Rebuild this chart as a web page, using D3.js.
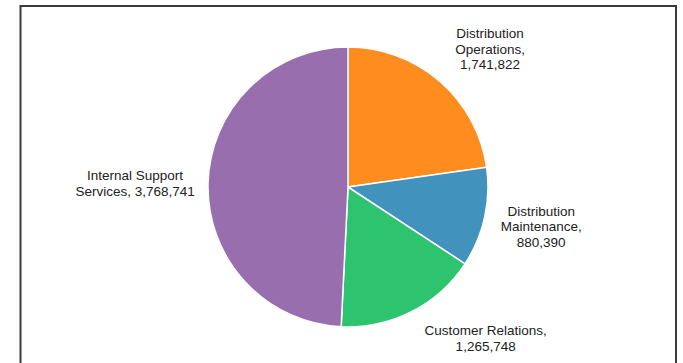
<!DOCTYPE html>
<html>
<head>
<meta charset="utf-8">
<script src="https://cdn.jsdelivr.net/npm/d3@7"></script>
<style>
  html, body { margin: 0; padding: 0; background: #fff; }
  svg { display: block; }
</style>
</head>
<body>
<svg id="chart" width="683" height="363"></svg>
<script>
// Budget by department
const categories = ["Distribution Operations", "Distribution Maintenance", "Customer Relations", "Internal Support Services"];
const values = [1741822, 880390, 1265748, 3768741];
const colors = ["#ff8c1f", "#4292be", "#2ec36e", "#986eae"];
// Label text lines (name broken over lines, then value)
const labelLines = [
  ["Distribution", "Operations,", "1,741,822"],
  ["Distribution", "Maintenance,", "880,390"],
  ["Customer Relations,", "1,265,748"],
  ["Internal Support", "Services, 3,768,741"]
];
// Small nudges so labels clear the pie and the frame
const labelNudge = [[11, 13], [-2, -4], [47, -27], [-13, 1]];

const W = 683, H = 363;
const cx = 348, cy = 187, radius = 140, labelRadius = 200;

const svg = d3.select("#chart");

// Frame
svg.append("rect")
  .attr("x", 20.5).attr("y", 6)
  .attr("width", 655.5).attr("height", H + 10)
  .attr("fill", "none")
  .attr("stroke", "#3a3a3a")
  .attr("stroke-width", 2);

const data = categories.map((c, i) => ({ name: c, value: values[i], color: colors[i], lines: labelLines[i], nudge: labelNudge[i] }));

const pie = d3.pie().value(d => d.value).sort(null);
const arc = d3.arc().innerRadius(0).outerRadius(radius);
const arcs = pie(data);

const g = svg.append("g").attr("transform", `translate(${cx},${cy})`);

g.selectAll("path.slice")
  .data(arcs)
  .join("path")
  .attr("class", "slice")
  .attr("d", arc)
  .attr("fill", d => d.data.color)
  .attr("stroke", "#fff")
  .attr("stroke-width", 1.5);

const lineH = 15.5;
const labels = g.selectAll("text.label")
  .data(arcs)
  .join("text")
  .attr("class", "label")
  .attr("text-anchor", "middle")
  .attr("font-family", "Liberation Sans, Arial, sans-serif")
  .attr("font-size", 13.5)
  .attr("fill", "#222")
  .attr("transform", d => {
    const a = (d.startAngle + d.endAngle) / 2;
    const x = labelRadius * Math.sin(a) + d.data.nudge[0];
    const y = -labelRadius * Math.cos(a) + d.data.nudge[1];
    return `translate(${x},${y})`;
  });

labels.each(function(d) {
  const n = d.data.lines.length;
  const t = d3.select(this);
  d.data.lines.forEach((line, i) => {
    t.append("tspan")
      .attr("x", 0)
      .attr("y", (i - (n - 1) / 2) * lineH)
      .attr("dy", "0.35em")
      .text(line);
  });
});
</script>
</body>
</html>
